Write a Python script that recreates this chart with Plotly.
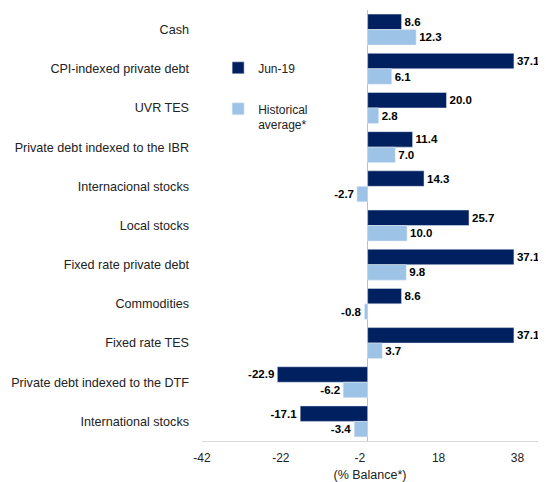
import plotly.graph_objects as go

categories = ["Cash", "CPI-indexed private debt", "UVR TES", "Private debt indexed to the IBR",
              "Internacional stocks", "Local stocks", "Fixed rate private debt", "Commodities",
              "Fixed rate TES", "Private debt indexed to the DTF", "International stocks"]
jun19 = [8.6, 37.1, 20.0, 11.4, 14.3, 25.7, 37.1, 8.6, 37.1, -22.9, -17.1]
hist_avg = [12.3, 6.1, 2.8, 7.0, -2.7, 10.0, 9.8, -0.8, 3.7, -6.2, -3.4]
tick_vals = [-42, -22, -2, 18, 38]

FONT = "Liberation Sans, Arial, sans-serif"
DARK = "#002060"
LIGHT = "#9DC3E6"
label_font = dict(family=FONT, size=11.5, color="black", weight="bold")

fig = go.Figure()
fig.add_trace(go.Bar(y=categories, x=jun19, orientation="h", name="Jun-19",
                     marker_color=DARK, text=[f"{v:.1f}" for v in jun19],
                     textposition="outside", cliponaxis=False, textfont=label_font,
                     legendgroup="a", showlegend=True))
fig.add_trace(go.Bar(y=categories, x=hist_avg, orientation="h", name="Historical<br>average*",
                     marker_color=LIGHT, text=[f"{v:.1f}" for v in hist_avg],
                     textposition="outside", cliponaxis=False, textfont=label_font,
                     legendgroup="b", showlegend=True))

# page body has an 8px margin, so the figure is 8px smaller and margins shifted
fig.update_layout(
    width=538, height=474,
    margin=dict(l=194, r=8, t=2, b=41),
    paper_bgcolor="white", plot_bgcolor="white",
    font=dict(family=FONT, size=12, color="#222"),
    barmode="group", bargap=0.21, bargroupgap=0,
    showlegend=True,
    legend=dict(x=0.048, y=0.899, xanchor="left", yanchor="top", valign="top",
                bgcolor="rgba(0,0,0,0)", font=dict(size=12), tracegroupgap=22,
                traceorder="grouped"),
    xaxis=dict(range=[-42, 43.2], tickvals=tick_vals, ticktext=[str(v) for v in tick_vals],
               showgrid=False, zeroline=True, zerolinecolor="#bfbfbf", zerolinewidth=1,
               showline=True, linecolor="#d9d9d9", linewidth=1, automargin=False,
               ticklabelstandoff=6,
               title=dict(text="(% Balance*)", font=dict(size=12.5), standoff=6),
               tickfont=dict(size=12)),
    yaxis=dict(autorange="reversed", showgrid=False, showline=False, ticks="",
               automargin=False, ticklabelstandoff=12, tickfont=dict(size=12.6)),
)

fig.write_html("out.html")
